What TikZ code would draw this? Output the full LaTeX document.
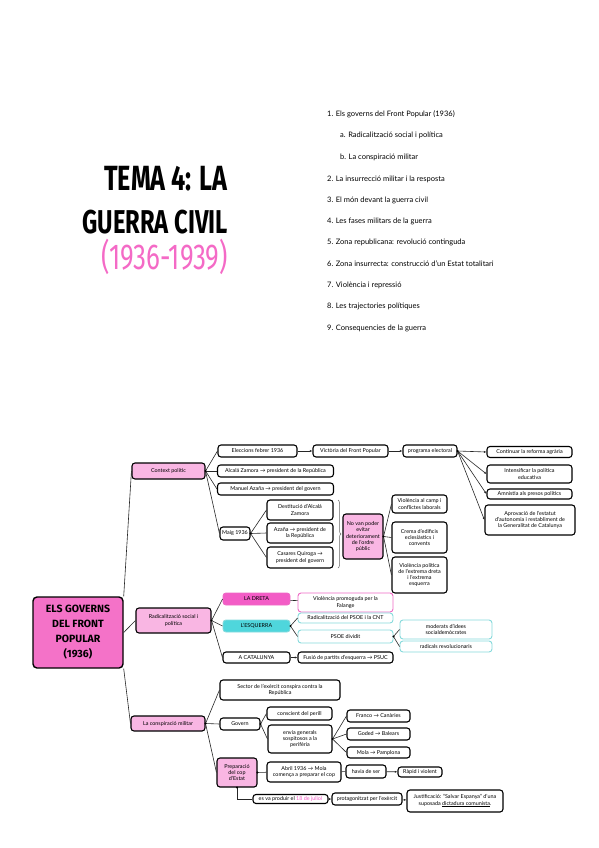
\documentclass[tikz,border=0pt]{standalone}
\usepackage{fontspec}
\setmainfont{Lato}
\newfontfamily\titlefont[FakeStretch=0.72]{Fira Sans}
\newfontfamily\rootfont{Fira Sans}
\usetikzlibrary{arrows.meta,decorations.pathreplacing,calc}
\definecolor{rootpink}{HTML}{F472C8}
\definecolor{lightpink}{HTML}{F9B6E3}
\definecolor{hotpink}{HTML}{F35CC6}
\definecolor{pinkline}{HTML}{EE6AC5}
\definecolor{cyanfill}{HTML}{4FD6DC}
\definecolor{cyanline}{HTML}{86DADC}
\definecolor{titlepink}{HTML}{F46AC6}
\begin{document}
\begin{tikzpicture}[x=1pt,y=-1pt,
  box/.style={draw=black, line width=1.1pt, rounded corners=3pt, fill=white, inner sep=0.8pt,
    align=center, font=\fontsize{5.4}{6.3}\selectfont},
  lvl/.style={box, fill=lightpink},
  pbox/.style={box, draw=pinkline, line width=0.9pt},
  cbox/.style={box, draw=cyanline, line width=0.9pt},
  conn/.style={line width=0.6pt, draw=black!85},
  arr/.style={conn, -{Latex[length=2.6pt,width=2.2pt]}},
  toc/.style={anchor=base west, inner sep=0pt, font=\fontsize{7.5}{9}\selectfont},
  ttl/.style={anchor=base east, inner sep=0pt, font=\titlefont\bfseries\fontsize{33}{36}\selectfont}
]
\useasboundingbox (0,0) rectangle (599,848);

% Title
\node[ttl, font=\titlefont\bfseries\fontsize{35}{36}\selectfont] (t1) at (228,190) {TEMA 4: LA};
\node[ttl] (t2) at (228,233) {GUERRA CIVIL};
\node[ttl, text=titlepink, font=\titlefont\fontsize{36}{38}\selectfont] (t3) at (228,269) {(1936-1939)};

% Table of contents
\node[toc] (c1) at (327,117) {1. Els governs del Front Popular (1936)};
\node[toc] (ca) at (340,137) {a. Radicalització social i política};
\node[toc] (cb) at (340,159) {b. La conspiració militar};
\node[toc] (c2) at (327,181) {2. La insurrecció militar i la resposta};
\node[toc] (c3) at (327,202) {3. El món devant la guerra civil};
\node[toc] (c4) at (327,223) {4. Les fases militars de la guerra};
\node[toc] (c5) at (327,244) {5. Zona republicana: revolució continguda};
\node[toc] (c6) at (327,266) {6. Zona insurrecta: construcció d'un Estat totalitari};
\node[toc] (c7) at (327,287) {7. Violència i repressió};
\node[toc] (c8) at (327,308) {8. Les trajectories polítiques};
\node[toc] (c9) at (327,330) {9. Consequencies de la guerra};

% Root
\node[box, fill=rootpink, line width=1.4pt, rounded corners=4pt, minimum width=90, minimum height=71,
  font=\rootfont\bfseries\fontsize{10.5}{15}\selectfont] (root) at (78,632.5)
  {ELS GOVERNS\\DEL FRONT\\POPULAR\\(1936)};

% Level 1
\node[lvl, minimum width=73, minimum height=16] (ctx) at (168.5,471) {Context polític};
\node[lvl, minimum width=75, minimum height=25] (rad) at (173.5,620.5) {Radicalització social i\\política};
\node[lvl, minimum width=74, minimum height=15] (con) at (168,723.5) {La conspiració militar};

% Context polític
\node[box, minimum width=79, minimum height=12] (e1) at (257.5,451) {Eleccions febrer 1936};
\node[box, minimum width=116, minimum height=12] (az) at (275.5,471) {Alcalá Zamora → president de la República};
\node[box, minimum width=116, minimum height=12] (ma) at (275.5,489) {Manuel Azaña → president del govern};
\node[box, minimum width=30, minimum height=13] (maig) at (235,533.5) {Maig 1936};
\node[box, minimum width=66, minimum height=20] (d1) at (300,510) {Destitució d'Alcalá\\Zamora};
\node[box, minimum width=66, minimum height=20] (d2) at (300,533) {Azaña → president de\\la República};
\node[box, minimum width=66, minimum height=21] (d3) at (300,557.5) {Casares Quiroga →\\president del govern};
\draw[line width=0.5pt, black!60, decorate, decoration={brace, amplitude=3pt}] (338,500) -- (338,568);
\node[lvl, minimum width=40, minimum height=45] (nv) at (363,536.5) {No van poder\\evitar\\deteriorament\\de l'ordre\\públic};
\node[box, minimum width=55, minimum height=18] (v1) at (419.5,504) {Violència al camp i\\conflictes laborals};
\node[box, minimum width=55, minimum height=31] (v2) at (419.5,537.5) {Crema d'edificis\\eclesiàstics i\\convents};
\node[box, minimum width=55, minimum height=36] (v3) at (419.5,575) {Violència política\\de l'extrema dreta\\i l'extrema\\esquerra};

\node[box, minimum width=75, minimum height=12] (vic) at (350.5,451) {Victòria del Front Popular};
\node[box, minimum width=54, minimum height=12] (pe) at (430,451) {programa electoral};
\node[box, minimum width=85, minimum height=11] (p1) at (529.5,452) {Continuar la reforma agrària};
\node[box, minimum width=85, minimum height=18] (p2) at (529.5,474) {Intensificar la política\\educativa};
\node[box, minimum width=85, minimum height=10] (p3) at (529.5,494) {Amnistia als presos polítics};
\node[box, minimum width=90, minimum height=30] (p4) at (530,520) {Aprovació de l'estatut\\d'autonomia i restabliment de\\la Generalitat de Catalunya};

% Radicalització
\node[box, draw=pinkline, fill=hotpink, line width=0.9pt, minimum width=67, minimum height=12] (dr) at (256.5,599) {LA DRETA};
\node[pbox, minimum width=95, minimum height=19] (fa) at (345.5,602.5) {Violència promoguda per la\\Falange};
\node[box, draw=cyanline, fill=cyanfill, line width=0.9pt, minimum width=67, minimum height=12] (es) at (256.5,626) {L'ESQUERRA};
\node[cbox, minimum width=95, minimum height=10] (ps1) at (345.5,618) {Radicalització del PSOE i la CNT};
\node[cbox, minimum width=95, minimum height=13] (ps2) at (345.5,636.5) {PSOE dividit};
\node[cbox, minimum width=92, minimum height=19] (mo) at (446,629.5) {moderats d'idees\\socialdemòcrates};
\node[cbox, minimum width=92, minimum height=11] (rv) at (446,646.5) {radicals revolucionaris};
\node[box, minimum width=67, minimum height=11] (cat) at (256.5,657.5) {A CATALUNYA};
\node[box, minimum width=95, minimum height=11] (fu) at (345.5,657.5) {Fusió de partits d'esquerra → PSUC};

% Conspiració
\node[box, minimum width=120, minimum height=20] (s1) at (280,690) {Sector de l'exèrcit conspira contra la\\República};
\node[box, minimum width=40, minimum height=12] (gv) at (240,724) {Govern};
\node[lvl, minimum width=40, minimum height=29] (pc) at (237,772.5) {Preparació\\del cop\\d'Estat};
\node[box, minimum width=65, minimum height=13] (cs) at (299.5,713.5) {conscient del perill};
\node[box, minimum width=64, minimum height=28] (eg) at (300,739) {envia generals\\sospitosos a la\\perifèria};
\node[box, minimum width=63, minimum height=12] (fr) at (378.5,716) {Franco → Canàries};
\node[box, minimum width=63, minimum height=12] (go) at (378.5,734) {Goded → Balears};
\node[box, minimum width=63, minimum height=11] (mola) at (378.5,752.5) {Mola → Pamplona};
\node[box, minimum width=74, minimum height=20] (ab) at (304,772) {Abril 1936 → Mola\\comença a preparar el cop};
\node[box, minimum width=40, minimum height=13] (hs) at (366,771.5) {havia de ser};
\node[box, minimum width=44, minimum height=10] (rp) at (420,772) {Ràpid i violent};
\node[box, minimum width=75, minimum height=9] (jul) at (290.5,799) {es va produir el \textcolor{hotpink}{18 de juliol}};
\node[box, minimum width=70, minimum height=12] (pr) at (367,799) {protagonitzat per l'exèrcit};
\node[box, minimum width=96, minimum height=22] (ju) at (455,801) {Justificació: “Salvar Espanya” d'una\\suposada \underline{dictadura comunista}.};

% Connectors
\draw[conn] (root.north east) -- (ctx.west);
\draw[conn] (root.east) -- (rad.west);
\draw[conn] (root.south east) -- (con.west);

\foreach \t in {e1,az,ma,maig} \draw[conn] (ctx.east) -- (\t.west);
\draw[arr] (e1) -- (vic);
\draw[arr] (vic) -- (pe);
\foreach \t in {p1,p2,p3,p4} \draw[arr] (pe.east) -- (\t.west);
\foreach \t in {d1,d2,d3} \draw[conn] (maig.east) -- (\t.west);
\foreach \t in {v1,v2,v3} \draw[conn] (nv.east) -- (\t.west);

\foreach \t in {dr,es,cat} \draw[conn] (rad.east) -- (\t.west);
\draw[conn] (dr) -- (fa);
\foreach \t in {ps1,ps2} \draw[conn] (es.east) -- (\t.west);
\foreach \t in {mo,rv} \draw[conn] (ps2.east) -- (\t.west);
\draw[arr] (cat) -- (fu);

\foreach \t in {s1,gv,pc} \draw[conn] (con.east) -- (\t.west);
\foreach \t in {cs,eg} \draw[conn] (gv.east) -- (\t.west);
\foreach \t in {fr,go,mola} \draw[conn] (eg.east) -- (\t.west);
\draw[conn] (pc) -- (ab);
\draw[conn] (ab) -- (hs);
\draw[arr] (hs) -- (rp);
\draw[conn] (pc.south) |- (jul.west);
\draw[arr] (jul) -- (pr);
\draw[arr] (pr) -- (ju);

% branch dots
\foreach \p in {ctx.east,rad.east,con.east,maig.east,pe.east,nv.east,es.east,ps2.east,gv.east,eg.east,pc.east,pc.south}
  \fill (\p) circle (1.1pt);
\end{tikzpicture}
\end{document}
